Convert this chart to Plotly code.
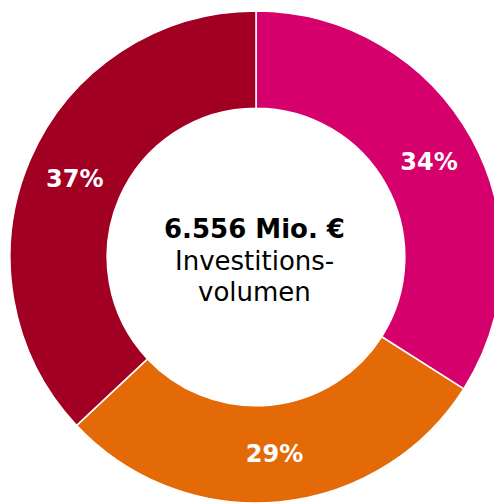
import plotly.graph_objects as go

labels = ["A", "B", "C"]
values = [34, 29, 37]
text_labels = ["34%", "29%", "37%"]
colors = ["#d6006d", "#e46a07", "#a10023"]
center_title = "6.556 Mio. €"
center_sub = ["Investitions-", "volumen"]

W, H = 494, 496
R = 246          # outer radius in px
CX, CY = 248, 249  # pie centre in px (from top-left of figure)

fig = go.Figure(go.Pie(
    labels=labels,
    values=values,
    text=text_labels,
    textinfo="text",
    textposition="inside",
    insidetextorientation="horizontal",
    hole=0.605,
    sort=False,
    direction="clockwise",
    rotation=0,
    domain=dict(x=[(CX - R) / W, (CX + R) / W], y=[1 - (CY + R) / H, 1 - (CY - R) / H]),
    marker=dict(colors=colors, line=dict(color="white", width=1.5)),
    textfont=dict(family="DejaVu Sans", size=24, color="white", weight="bold"),
    hoverinfo="skip",
    showlegend=False,
))

tx = 246 / W
lines = [(center_title, True, 221), (center_sub[0], False, 253), (center_sub[1], False, 284)]
for txt, bold, py in lines:
    fig.add_annotation(
        x=tx, y=1 - py / H, xref="paper", yref="paper",
        xanchor="center", yanchor="middle",
        text=("<b>" + txt + "</b>") if bold else txt,
        showarrow=False,
        font=dict(family="DejaVu Sans", size=26, color="black"),
        align="center",
    )

fig.update_layout(
    width=W, height=H,
    margin=dict(l=0, r=0, t=0, b=0),
    paper_bgcolor="white",
    plot_bgcolor="white",
    uniformtext=dict(minsize=24, mode="show"),
)

fig.write_html("out.html")
